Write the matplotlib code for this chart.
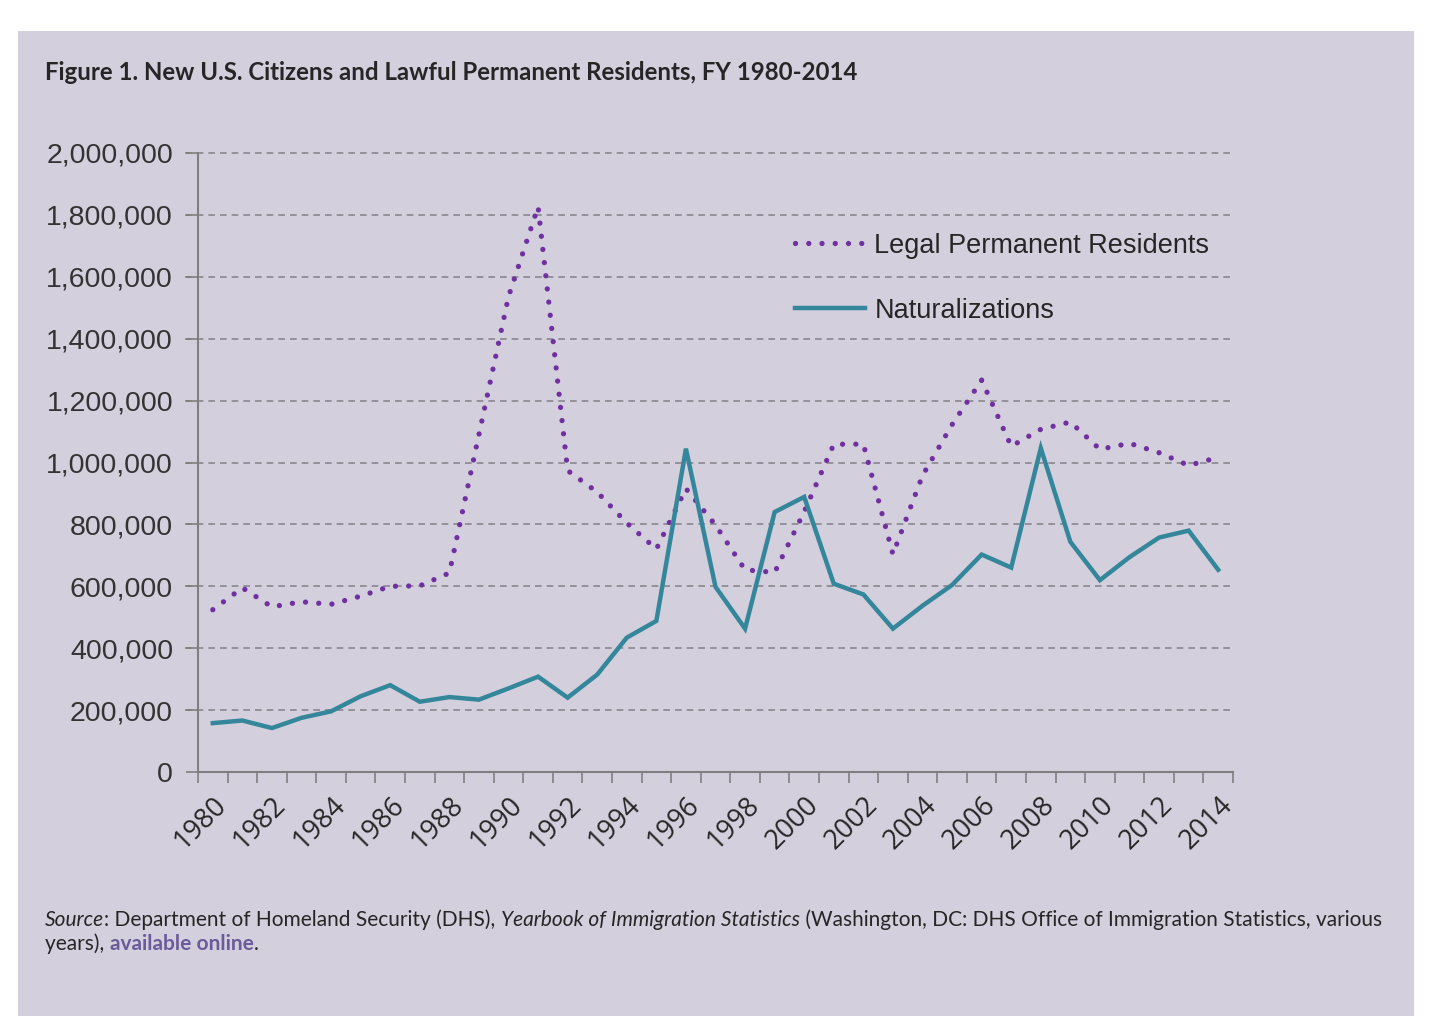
import matplotlib
matplotlib.use("Agg")
import matplotlib.pyplot as plt
from matplotlib.patches import Rectangle

years = list(range(1980, 2015))
lpr = [524295, 595014, 533624, 550052, 541811, 568149, 600027, 601516, 643025,
       1090172, 1535872, 1826595, 973977, 904292, 804416, 720177, 915560, 797847,
       653206, 644787, 841002, 1058902, 1059356, 703542, 957883, 1122257, 1266129,
       1052415, 1107126, 1130818, 1042625, 1062040, 1031631, 990553, 1016518]
naturalizations = [157938, 166317, 142000, 175000, 196000, 244717, 280623, 227008,
                   242063, 233777, 270101, 308058, 240252, 314681, 434107, 488088,
                   1044689, 598225, 463060, 839944, 888788, 608205, 573708, 463204,
                   537151, 604280, 702589, 660477, 1046539, 743715, 619913, 694193,
                   757434, 779929, 653416]
y_ticks = list(range(0, 2000001, 200000))

W, H = 1440, 1034
BG = "#d3cfdd"
PURPLE = "#7030a0"
TEAL = "#34879a"
GRID = "#8a8690"

fig = plt.figure(figsize=(W / 100, H / 100), dpi=100)
fig.patch.set_facecolor("white")
fig.patches.append(Rectangle((18 / W, 1 - 1016 / H), (1414 - 18) / W, (1016 - 31) / H,
                             transform=fig.transFigure, facecolor=BG, edgecolor="none",
                             zorder=-10))

ax = fig.add_axes([198 / W, 1 - 772 / H, (1233 - 198) / W, (772 - 153) / H])
ax.set_facecolor("none")

x = list(range(len(years)))
ax.plot(x, lpr, color=PURPLE, linewidth=3.8, linestyle=(0, (0.01, 2.5)),
        dash_capstyle="round", label="Legal Permanent Residents", zorder=3)
ax.plot(x, naturalizations, color=TEAL, linewidth=3.2, label="Naturalizations",
        solid_joinstyle="miter", zorder=4)

ax.set_xlim(-0.5, len(years) - 0.5)
ax.set_ylim(0, 2000000)

for s in ["top", "right"]:
    ax.spines[s].set_visible(False)
for s in ["left", "bottom"]:
    ax.spines[s].set_color("#7f7f7f")
    ax.spines[s].set_linewidth(1.5)

ax.set_yticks(y_ticks)
ax.set_yticklabels([f"{v:,}" for v in y_ticks], fontsize=20.5, family="Liberation Sans",
                   color="#333333")
ax.tick_params(axis="y", length=9, width=1.2, color="#7f7f7f", pad=9)
for v in y_ticks[1:]:
    ax.axhline(v, color=GRID, linewidth=1.2, linestyle=(0, (4, 3)), zorder=1,
               xmin=-0.013, clip_on=False)

ax.set_xticks([i - 0.5 for i in range(len(years) + 1)], minor=True)
ax.set_xticks([i for i in x if years[i] % 2 == 0])
ax.set_xticklabels([str(years[i]) for i in x if years[i] % 2 == 0], rotation=45,
                   ha="right", rotation_mode="anchor", fontsize=19.5,
                   family="Open Sans", color="#262626")
ax.tick_params(axis="x", which="major", length=0, pad=14)
ax.tick_params(axis="x", which="minor", length=8, width=1.2, color="#7f7f7f")

fig.legend(loc="upper left", bbox_to_anchor=(781 / W, 1 - 219 / H), frameon=False,
           prop={"family": "Liberation Sans", "size": 19.5}, borderpad=0,
           labelspacing=1.45, handlelength=2.6, handletextpad=0.35,
           labelcolor="#262626")

fig.text(45 / W, 1 - 80 / H,
         "Figure 1. New U.S. Citizens and Lawful Permanent Residents, FY 1980-2014",
         fontsize=17.3, fontweight="bold", family="Lato", color="#262626")

# source note built from pieces so italics and link colour can be mixed
renderer = fig.canvas.get_renderer()
pieces = [("Source", "italic", "normal", "#262626"),
          (": Department of Homeland Security (DHS), ", "normal", "normal", "#262626"),
          ("Yearbook of Immigration Statistics", "italic", "normal", "#262626"),
          (" (Washington, DC: DHS Office of Immigration Statistics, various", "normal",
           "normal", "#262626")]
xpos = 45
for txt, style, weight, col in pieces:
    t = fig.text(xpos / W, 1 - 926 / H, txt, fontsize=15, family="Lato", style=style,
                 weight=weight, color=col)
    xpos = t.get_window_extent(renderer).x1
pieces2 = [("years), ", "normal", "normal", "#262626"),
           ("available online", "normal", "bold", "#6c5b9b"),
           (".", "normal", "normal", "#262626")]
xpos = 45
for txt, style, weight, col in pieces2:
    t = fig.text(xpos / W, 1 - 950 / H, txt, fontsize=15, family="Lato", style=style,
                 weight=weight, color=col)
    xpos = t.get_window_extent(renderer).x1

fig.savefig("out.png", dpi=100)
